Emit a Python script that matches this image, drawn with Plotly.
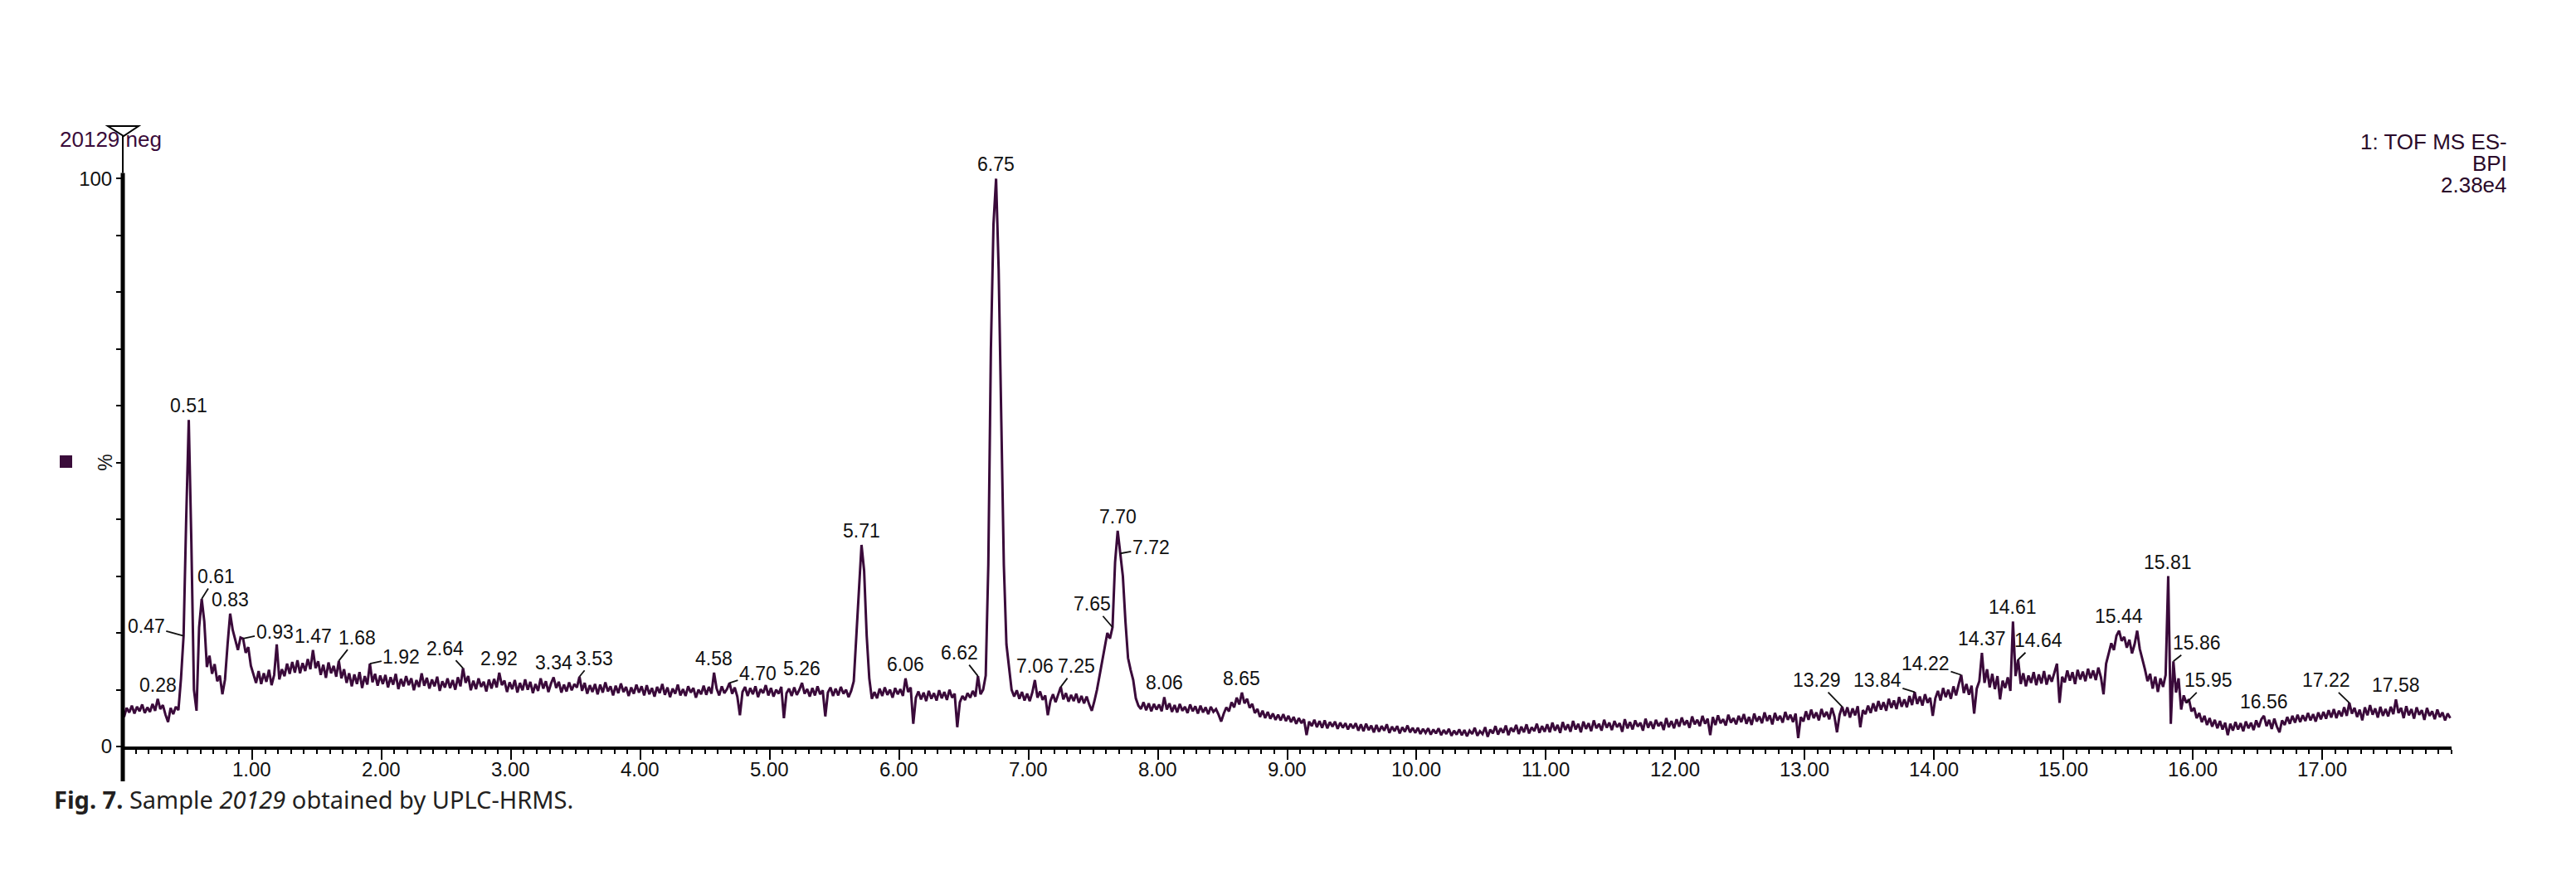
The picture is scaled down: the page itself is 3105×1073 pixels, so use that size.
import plotly.graph_objects as go

# ---------------- data: BPI trace, % intensity on a 0.02-min grid starting at 0.01 min ----------------
bpi_min00 = [5.2, 6.8, 6.0, 7.2, 5.8, 7.0, 6.2, 7.4, 5.9, 6.9, 6.1, 7.5, 6.3, 8.4, 6.6, 7.3, 5.6, 4.3, 6.8, 5.7, 7.0, 6.4, 12.0, 19.5, 40.0,
             57.5, 36.0, 10.0, 6.3, 21.0, 26.0, 22.0, 14.0, 16.0, 12.8, 14.5, 11.5, 12.5, 9.2, 11.8, 18.0, 23.4, 20.5, 18.8, 17.0, 19.2, 19.0, 16.5, 17.5, 14.2]
bpi_min01 = [12.7, 11.2, 13.3, 11.0, 12.9, 11.4, 13.5, 10.8, 12.6, 18.0, 11.8, 13.6, 12.4, 14.6, 12.8, 14.9, 13.0, 15.2, 12.9, 14.7, 13.3, 15.4, 13.6, 17.0, 13.8,
             15.0, 12.6, 14.4, 12.1, 14.8, 12.9, 14.2, 12.3, 15.1, 12.0, 13.6, 11.2, 12.9, 10.6, 12.7, 11.0, 13.1, 10.3, 12.4, 10.9, 14.6, 11.3, 12.8, 10.7, 12.5]
bpi_min02 = [11.0, 12.6, 10.4, 12.2, 10.9, 12.8, 10.1, 11.9, 10.6, 12.4, 10.8, 12.0, 9.9, 11.7, 10.5, 12.9, 10.7, 12.1, 10.2, 11.8, 10.6, 12.3, 9.8, 11.5, 10.4,
             12.0, 10.3, 11.7, 10.0, 12.2, 10.6, 13.8, 11.2, 12.4, 9.9, 11.6, 10.1, 12.0, 10.5, 11.4, 9.7, 11.8, 10.2, 11.9, 10.4, 13.0, 10.8, 11.6, 9.6, 11.3]
bpi_min03 = [10.1, 11.7, 9.5, 11.2, 9.9, 11.8, 10.0, 11.4, 9.4, 11.0, 9.8, 12.0, 10.2, 11.5, 9.6, 11.1, 12.2, 10.3, 11.4, 9.5, 10.9, 9.7, 11.3, 9.9, 11.0,
             10.4, 12.3, 9.8, 11.2, 9.3, 10.8, 9.6, 11.0, 9.2, 10.9, 9.5, 11.3, 9.7, 10.6, 9.0, 10.7, 9.4, 11.1, 9.6, 10.5, 8.9, 10.4, 9.3, 10.9, 9.5]
bpi_min04 = [10.6, 9.0, 10.8, 9.2, 10.3, 8.8, 10.5, 9.4, 11.0, 9.1, 10.4, 8.7, 10.2, 9.3, 10.9, 9.0, 10.1, 8.9, 10.6, 9.5, 10.3, 8.6, 10.0, 9.2, 10.7,
             9.1, 10.5, 9.3, 13.0, 10.2, 9.0, 10.6, 9.4, 10.1, 11.2, 9.3, 10.4, 8.8, 5.5, 9.6, 10.5, 8.9, 10.3, 9.2, 10.6, 8.7, 10.1, 9.4, 10.8, 9.0]
bpi_min05 = [10.3, 8.8, 10.0, 9.3, 10.5, 5.0, 9.4, 10.2, 8.9, 10.4, 9.1, 10.0, 11.2, 9.3, 10.1, 8.8, 10.3, 9.0, 10.6, 9.2, 9.9, 5.3, 9.5, 10.4, 8.9,
             10.2, 9.0, 10.5, 9.3, 10.0, 8.7, 9.8, 11.5, 19.0, 27.0, 35.5, 31.0, 19.5, 12.0, 8.4, 9.6, 8.5, 10.2, 8.9, 10.4, 9.1, 10.0, 8.6, 10.3, 9.2]
bpi_min06 = [10.1, 8.9, 12.0, 9.6, 10.4, 4.0, 8.6, 9.7, 8.3, 9.5, 8.0, 9.8, 8.4, 9.4, 8.1, 9.9, 8.5, 9.6, 8.2, 10.0, 8.6, 9.3, 3.4, 7.8, 8.9,
             8.2, 9.4, 8.6, 9.8, 8.8, 12.4, 9.2, 10.0, 12.5, 32.0, 70.0, 92.0, 100.0, 84.0, 56.0, 32.0, 18.0, 13.5, 10.0, 8.8, 9.9, 8.4, 9.6, 8.1, 9.3]
bpi_min07 = [8.0, 9.5, 11.7, 8.6, 9.7, 8.2, 9.0, 5.5, 8.0, 9.2, 7.8, 9.0, 10.5, 8.3, 9.4, 7.9, 9.1, 8.0, 9.3, 7.7, 8.9, 7.6, 8.8, 7.4, 6.3,
             8.0, 10.0, 12.5, 15.0, 17.5, 20.0, 19.0, 21.0, 32.5, 38.0, 34.0, 30.0, 22.0, 15.6, 13.5, 11.7, 8.5, 7.2, 6.6, 7.8, 6.4, 7.6, 6.2, 7.5, 6.5]
bpi_min08 = [7.4, 6.2, 8.7, 6.5, 7.6, 6.1, 7.3, 6.0, 7.5, 6.3, 7.0, 5.9, 7.4, 6.2, 7.1, 5.8, 7.2, 6.0, 6.9, 5.7, 7.0, 6.1, 6.6, 5.6, 4.4,
             5.8, 6.9, 6.2, 7.8, 6.9, 8.6, 7.4, 9.5, 7.6, 8.4, 6.8, 7.5, 5.9, 6.6, 5.2, 6.3, 5.0, 6.1, 4.9, 5.8, 4.7, 5.6, 4.6, 5.7, 4.5]
bpi_min09 = [5.4, 4.3, 5.2, 4.0, 5.0, 4.1, 4.8, 2.0, 4.4, 3.6, 4.7, 3.4, 4.5, 3.3, 4.6, 3.2, 4.3, 3.5, 4.4, 3.1, 4.2, 3.3, 4.1, 3.0, 4.0,
             3.2, 4.1, 2.8, 3.9, 2.7, 4.0, 2.9, 3.7, 2.5, 3.8, 2.6, 3.6, 2.8, 3.9, 2.4, 3.5, 2.7, 3.6, 2.3, 3.4, 2.6, 3.7, 2.5, 3.3, 2.4]
bpi_min10 = [3.3, 2.2, 3.1, 2.4, 3.2, 2.1, 3.0, 2.3, 3.2, 2.0, 2.9, 2.2, 3.1, 1.9, 2.8, 2.1, 3.0, 2.0, 2.9, 1.8, 2.8, 2.2, 3.3, 1.9, 2.7,
             2.2, 3.4, 1.7, 3.0, 2.3, 3.6, 2.1, 3.2, 2.4, 3.7, 2.0, 3.3, 2.6, 3.8, 2.2, 3.5, 2.5, 3.9, 2.3, 3.4, 2.7, 4.0, 2.4, 3.6, 2.6]
bpi_min11 = [3.9, 2.5, 4.2, 2.8, 3.8, 2.4, 4.3, 2.9, 3.9, 2.6, 4.5, 3.0, 4.0, 2.5, 4.4, 3.1, 4.1, 2.7, 4.6, 3.2, 4.0, 2.8, 4.7, 3.3, 4.2,
             2.9, 4.5, 3.4, 4.1, 2.6, 4.8, 3.2, 4.3, 3.0, 4.6, 3.5, 4.2, 2.8, 4.9, 3.3, 4.4, 3.1, 4.7, 3.6, 4.3, 2.9, 5.0, 3.4, 4.5, 3.2]
bpi_min12 = [4.8, 3.5, 5.1, 3.8, 4.6, 3.3, 5.3, 3.9, 4.7, 3.6, 5.4, 4.0, 4.9, 2.0, 5.2, 3.8, 5.5, 4.1, 4.8, 3.7, 5.6, 4.2, 5.0, 3.9, 5.4,
             4.3, 5.7, 4.0, 5.2, 3.8, 5.8, 4.4, 5.3, 4.1, 6.0, 4.5, 5.5, 3.9, 5.9, 4.6, 5.4, 4.2, 6.1, 4.7, 5.6, 4.3, 5.8, 1.5, 5.2, 4.4]
bpi_min13 = [6.2, 4.7, 6.5, 5.0, 6.0, 4.6, 6.6, 5.2, 6.1, 4.8, 6.8, 5.3, 2.5, 5.6, 7.0, 5.4, 6.9, 5.1, 6.7, 5.5, 7.1, 3.4, 6.4, 5.7, 7.2,
             5.9, 7.6, 6.2, 8.0, 6.5, 7.8, 6.3, 8.4, 6.8, 8.1, 6.6, 8.7, 7.0, 8.3, 6.9, 8.9, 7.3, 9.6, 7.5, 8.8, 7.2, 9.2, 7.7, 8.6, 5.4]
bpi_min14 = [8.5, 9.8, 8.1, 10.3, 8.7, 10.0, 8.4, 10.6, 9.0, 10.9, 12.6, 9.4, 11.0, 9.1, 10.7, 5.8, 10.2, 11.5, 16.5, 11.2, 13.6, 10.4, 12.8, 10.1, 12.4,
             8.3, 11.6, 10.3, 12.2, 9.8, 22.0, 12.4, 15.3, 11.0, 12.9, 10.6, 12.5, 11.2, 13.1, 10.8, 12.7, 11.1, 13.3, 10.9, 12.6, 11.4, 13.0, 14.6, 7.7, 12.3]
bpi_min15 = [11.3, 13.4, 11.6, 13.1, 11.0, 13.5, 11.8, 13.2, 11.5, 13.7, 12.0, 13.4, 11.7, 13.9, 12.2, 9.2, 14.6, 16.5, 18.2, 17.0, 19.5, 20.4, 18.6, 19.3, 17.4,
             18.8, 16.4, 18.0, 20.4, 17.2, 15.5, 13.6, 11.5, 12.8, 10.2, 12.3, 9.6, 12.0, 10.5, 12.6, 30.0, 4.0, 15.0, 9.5, 12.0, 6.5, 9.0, 7.7, 8.3, 6.2]
bpi_min16 = [6.8, 5.0, 5.9, 4.3, 5.4, 3.8, 5.0, 3.5, 4.7, 3.2, 4.5, 3.0, 4.2, 2.0, 4.0, 2.8, 4.3, 3.0, 4.1, 2.7, 4.4, 3.2, 4.2, 2.9, 4.6,
             3.4, 4.8, 5.4, 3.6, 4.7, 3.1, 4.9, 3.5, 2.5, 4.6, 3.8, 5.2, 4.0, 5.4, 4.2, 5.6, 4.3, 5.5, 4.5, 5.9, 4.6, 5.7, 4.4, 6.0, 4.8]
bpi_min17 = [6.1, 4.9, 6.4, 5.1, 6.6, 5.0, 6.3, 5.3, 6.9, 5.4, 7.7, 5.8, 6.8, 5.2, 6.5, 4.6, 6.9, 5.5, 7.3, 5.6, 6.7, 5.1, 7.0, 5.4, 6.6,
             5.3, 7.0, 5.7, 8.3, 5.9, 6.8, 5.0, 7.1, 5.5, 6.6, 4.9, 6.9, 5.6, 6.4, 4.7, 6.8, 5.4, 6.2, 4.8, 6.5, 5.2, 6.0, 4.6, 5.8, 5.0]

# peak annotations: retention time label, retention time, intensity (%) at the marked point
peak_text = ["0.28", "0.47", "0.51", "0.61", "0.83", "0.93", "1.47", "1.68", "1.92", "2.64", "2.92", "3.34", "3.53",
             "4.58", "4.70", "5.26", "5.71", "6.06", "6.62", "6.75", "7.06", "7.25", "7.65", "7.70", "7.72", "8.06", "8.65",
             "13.29", "13.84", "14.22", "14.37", "14.61", "14.64", "15.44", "15.81", "15.86", "15.95", "16.56", "17.22", "17.58"]
peak_rt = [0.27, 0.47, 0.51, 0.61, 0.83, 0.93, 1.47, 1.67, 1.91, 2.63, 2.91, 3.33, 3.53,
           4.57, 4.69, 5.25, 5.71, 6.05, 6.61, 6.75, 7.05, 7.25, 7.65, 7.69, 7.71, 8.05, 8.65,
           13.29, 13.85, 14.21, 14.37, 14.61, 14.65, 15.43, 15.81, 15.85, 15.95, 16.55, 17.21, 17.57]
peak_int = [8.4, 19.5, 57.5, 26.0, 23.4, 19.0, 17.0, 15.1, 14.6, 13.8, 13.0, 12.2, 12.3,
            13.0, 11.2, 11.2, 35.5, 12.0, 12.4, 100.0, 11.7, 10.5, 21.0, 38.0, 34.0, 8.7, 9.5,
            7.0, 9.6, 12.6, 16.5, 22.0, 15.3, 20.4, 30.0, 15.0, 7.7, 5.4, 7.7, 8.3]

x_tick_vals = list(range(1, 18))
x_tick_text = [f"{v:.2f}" for v in x_tick_vals]
y_tick_vals = list(range(0, 101, 10))
y_tick_text = ["0"] + [""] * 9 + ["100"]

# ---------------- layout / style (not data) ----------------
# label offsets (px) for labels joined to their peak by a leader line
LEADERS = {"0.47": (-45, -12), "0.61": (17, -27), "0.93": (38, -8), "1.68": (22, -28), "1.92": (38, -8),
           "2.64": (-22, -24), "3.53": (18, -22), "4.70": (34, -11), "6.62": (-22, -28), "7.25": (19, -25),
           "7.65": (-24, -28), "7.72": (37, -7), "13.29": (-31, -32), "13.84": (-45, -14), "14.22": (-43, -14),
           "14.64": (24, -23), "15.86": (28, -22), "15.95": (27, -27), "17.22": (-28, -27)}

PAGE_OFF = 8                      # default body margin of the html page
W, H = 3105 - PAGE_OFF, 1073 - PAGE_OFF
SX0, SX1, SY0, SY1 = 148, 2955, 147, 900   # plot area in screen pixels
ML, MR = SX0 - PAGE_OFF, W - (SX1 - PAGE_OFF)
MT, MB = SY0 - PAGE_OFF, H - (SY1 - PAGE_OFF)
XMAX, YMAX = 18.0, 110.0
TRACE = "#3a0a3a"
TXT = "#111111"
FONT = "Liberation Sans, Arial, sans-serif"

bpi = (bpi_min00 + bpi_min01 + bpi_min02 + bpi_min03 + bpi_min04 + bpi_min05 + bpi_min06 + bpi_min07 + bpi_min08 +
       bpi_min09 + bpi_min10 + bpi_min11 + bpi_min12 + bpi_min13 + bpi_min14 + bpi_min15 + bpi_min16 + bpi_min17)
rt = [round(0.01 + 0.02 * i, 2) for i in range(len(bpi))]

fig = go.Figure()
fig.add_trace(go.Scatter(x=rt, y=bpi, mode="lines", line=dict(color=TRACE, width=3), hoverinfo="skip", showlegend=False))
# invisible trace to carry the half-minute tick axis
fig.add_trace(go.Scatter(x=[0, XMAX], y=[0, 0], xaxis="x2", mode="lines", line=dict(width=0), opacity=0,
                         hoverinfo="skip", showlegend=False))

pw = SX1 - SX0
ph = SY1 - SY0


def px(xpix):
    return (xpix - SX0) / pw


def py(ypix):
    return (SY1 - ypix) / ph


ann = []
for txt, t, v in zip(peak_text, peak_rt, peak_int):
    if txt in LEADERS:
        ax, ay = LEADERS[txt]
        ann.append(dict(x=t, y=v, xref="x", yref="y", text=txt, showarrow=True, arrowhead=0, arrowwidth=1.8,
                        arrowcolor="#111", ax=ax, ay=ay, standoff=0, startstandoff=0,
                        font=dict(family=FONT, size=23, color=TXT)))
    else:
        ann.append(dict(x=t, y=v, xref="x", yref="y", text=txt, showarrow=False, yanchor="bottom", yshift=2,
                        font=dict(family=FONT, size=23, color=TXT)))

for v, s in zip(x_tick_vals, x_tick_text):
    ann.append(dict(x=v, y=py(927), xref="x", yref="paper", text=s, showarrow=False, xanchor="center",
                    yanchor="middle", font=dict(family=FONT, size=24, color=TXT)))

ann += [
    dict(x=px(70), y=py(168), xref="paper", yref="paper", xanchor="left", yanchor="middle", showarrow=False,
         text="20129 neg", font=dict(family=FONT, size=26, color="#3a0c3a")),
    dict(x=px(3024), y=py(171), xref="paper", yref="paper", xanchor="right", yanchor="middle", showarrow=False,
         text="1: TOF MS ES-", font=dict(family=FONT, size=26, color="#2a0a2a")),
    dict(x=px(3024), y=py(197), xref="paper", yref="paper", xanchor="right", yanchor="middle", showarrow=False,
         text="BPI", font=dict(family=FONT, size=26, color="#2a0a2a")),
    dict(x=px(3024), y=py(223), xref="paper", yref="paper", xanchor="right", yanchor="middle", showarrow=False,
         text="2.38e4", font=dict(family=FONT, size=26, color="#2a0a2a")),
    dict(x=px(127), y=50 / YMAX, xref="paper", yref="paper", xanchor="center", yanchor="middle", showarrow=False,
         text="%", textangle=-90, font=dict(family=FONT, size=23, color=TXT)),
    dict(x=px(63), y=py(963), xref="paper", yref="paper", xanchor="left", yanchor="middle", showarrow=False,
         text="<b>Fig. 7.</b> Sample <i>20129</i> obtained by UPLC-HRMS.",
         font=dict(family="Noto Sans, sans-serif", size=29, color="#231f20")),
]

shapes = [
    # y axis line: thick to 100 %, thin above
    dict(type="line", xref="paper", yref="paper", x0=0, x1=0, y0=py(942), y1=101 / YMAX, line=dict(color="black", width=5)),
    dict(type="line", xref="paper", yref="paper", x0=0, x1=0, y0=101 / YMAX, y1=py(163), line=dict(color="black", width=2)),
    # inverted triangle at top of y axis
    dict(type="path", xref="paper", yref="paper",
         path=f"M {px(130)} {py(152)} L {px(167)} {py(152)} L {px(149)} {py(164)} Z",
         line=dict(color="black", width=2), fillcolor="rgba(0,0,0,0)"),
    # square marker left of the % label
    dict(type="rect", xref="paper", yref="paper", x0=px(72), x1=px(87), y0=py(564), y1=py(549),
         line=dict(width=0), fillcolor="#3a0c3a"),
]

fig.update_layout(
    width=W, height=H, autosize=False,
    margin=dict(l=ML, r=MR, t=MT, b=MB, pad=0),
    paper_bgcolor="white", plot_bgcolor="white",
    showlegend=False,
    xaxis=dict(range=[0, XMAX], showgrid=False, zeroline=False, showline=True, linecolor="black", linewidth=4,
               ticks="outside", tickvals=x_tick_vals, showticklabels=False, ticklen=12, tickwidth=2, tickcolor="black",
               minor=dict(dtick=0.1, tick0=0, ticks="outside", ticklen=5, tickwidth=1.5, tickcolor="black")),
    xaxis2=dict(range=[0, XMAX], overlaying="x", matches="x", side="bottom", showgrid=False, zeroline=False,
                showline=False, showticklabels=False, ticks="outside", tickvals=[i + 0.5 for i in range(18)],
                ticklen=8, tickwidth=2, tickcolor="black", anchor="y"),
    yaxis=dict(range=[0, YMAX], showgrid=False, zeroline=False, showline=False, ticks="outside",
               tickvals=y_tick_vals, ticktext=y_tick_text, ticklen=7, tickwidth=2, tickcolor="black",
               tickfont=dict(family=FONT, size=24, color=TXT)),
    annotations=ann,
    shapes=shapes,
)

fig.write_html("out.html")
